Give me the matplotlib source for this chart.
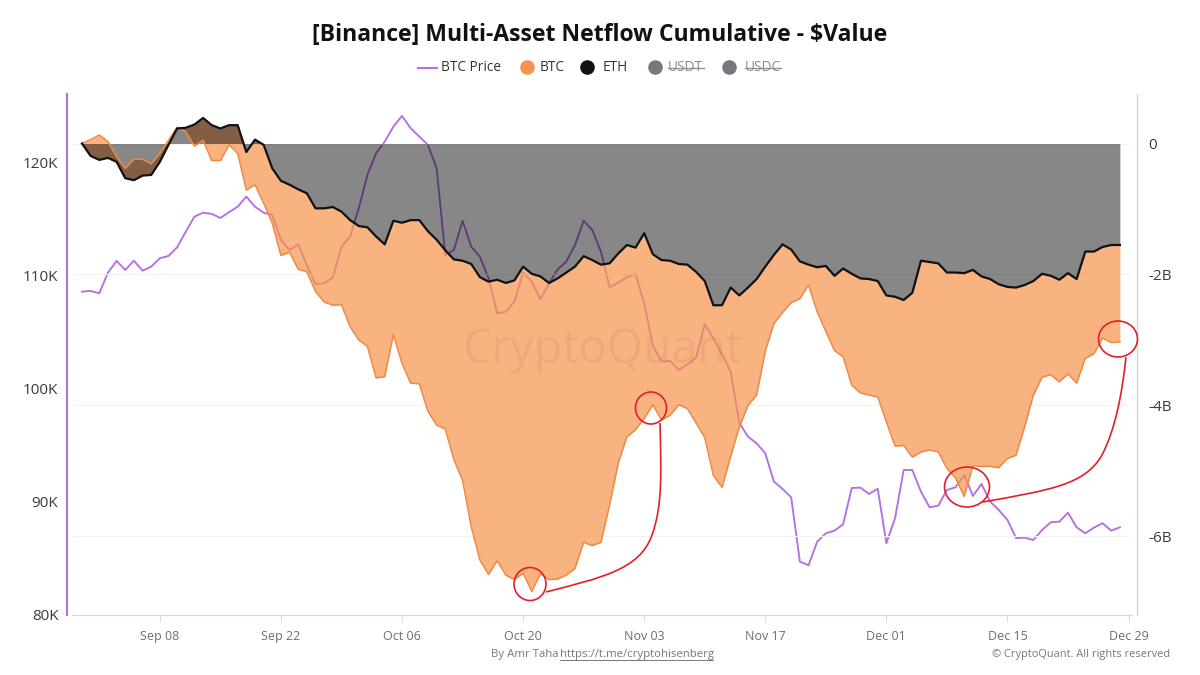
import numpy as np
import pandas as pd
import matplotlib as mpl
mpl.use('Agg')
import matplotlib.pyplot as plt
from matplotlib.lines import Line2D
from matplotlib.patches import Ellipse, PathPatch
from matplotlib.path import Path

plt.rcParams['font.family'] = ['Open Sans', 'DejaVu Sans']

###############################################################################
## Data (one point per day)
###############################################################################
start_date = '2025-08-30'

btc_price = [108.61, 108.67, 108.47, 110.29, 111.33, 110.53, 111.35, 110.47, 110.82, 111.57,
             111.77, 112.54, 113.92, 115.25, 115.60, 115.49, 115.13, 115.64, 116.13, 117.02,
             116.13, 115.60, 115.40, 113.19, 112.30, 112.81, 110.97, 109.29, 109.35, 109.85,
             112.59, 113.48, 115.99, 118.94, 120.86, 121.88, 123.21, 124.16, 123.07, 122.33,
             121.59, 119.53, 111.86, 112.30, 114.89, 112.59, 111.71, 109.80, 106.70, 106.84,
             107.73, 110.29, 109.50, 107.94, 109.35, 110.59, 111.27, 112.74, 114.89, 114.07,
             112.15, 109.00, 109.41, 109.88, 110.18, 107.58, 103.83, 102.42, 102.48, 101.68,
             102.19, 102.77, 105.75, 104.49, 103.07, 101.53, 97.00, 95.78, 95.19, 94.31,
             91.80, 91.15, 90.40, 84.72, 84.40, 86.49, 87.23, 87.46, 88.03, 91.24,
             91.27, 90.71, 91.18, 86.35, 88.56, 92.83, 92.83, 90.91, 89.53, 89.67,
             91.06, 91.30, 92.39, 90.53, 91.59, 90.03, 89.29, 88.41, 86.81, 86.84,
             86.64, 87.52, 88.20, 88.26, 89.05, 87.76, 87.23, 87.73, 88.12, 87.46,
             87.76]

btc_flow = [0.00, 0.06, 0.13, 0.03, -0.20, -0.38, -0.24, -0.24, -0.31, -0.15,
            0.05, 0.25, 0.18, -0.04, 0.05, -0.26, -0.26, -0.02, -0.15, -0.71,
            -0.63, -0.91, -1.22, -1.71, -1.66, -1.92, -1.96, -2.26, -2.42, -2.47,
            -2.46, -2.80, -3.00, -3.10, -3.58, -3.56, -2.92, -3.36, -3.66, -3.67,
            -4.09, -4.30, -4.36, -4.83, -5.14, -5.85, -6.36, -6.58, -6.37, -6.59,
            -6.66, -6.56, -6.84, -6.57, -6.66, -6.65, -6.59, -6.49, -6.09, -6.14,
            -6.09, -5.52, -4.88, -4.48, -4.37, -4.20, -3.99, -4.22, -4.15, -3.99,
            -4.05, -4.27, -4.49, -5.07, -5.25, -4.78, -4.33, -4.00, -3.84, -3.17,
            -2.75, -2.58, -2.43, -2.37, -2.16, -2.57, -2.87, -3.16, -3.26, -3.69,
            -3.81, -3.84, -3.87, -4.25, -4.62, -4.61, -4.79, -4.71, -4.68, -4.71,
            -4.96, -5.11, -5.39, -4.92, -4.93, -4.93, -4.95, -4.81, -4.76, -4.32,
            -3.84, -3.57, -3.53, -3.64, -3.52, -3.66, -3.28, -3.21, -2.97, -3.04,
            -3.03]

eth_flow = [0.00, -0.19, -0.25, -0.22, -0.28, -0.53, -0.56, -0.49, -0.48, -0.28,
            -0.02, 0.23, 0.24, 0.29, 0.39, 0.28, 0.23, 0.28, 0.28, -0.13,
            0.06, -0.02, -0.38, -0.57, -0.63, -0.70, -0.76, -0.99, -0.99, -0.97,
            -1.04, -1.17, -1.26, -1.28, -1.42, -1.54, -1.18, -1.21, -1.17, -1.17,
            -1.34, -1.47, -1.63, -1.77, -1.79, -1.84, -2.04, -2.11, -2.08, -2.13,
            -2.09, -1.88, -1.99, -2.03, -2.13, -2.06, -1.97, -1.88, -1.72, -1.78,
            -1.85, -1.83, -1.68, -1.55, -1.59, -1.37, -1.69, -1.78, -1.79, -1.84,
            -1.85, -1.96, -2.10, -2.47, -2.47, -2.20, -2.32, -2.20, -2.07, -1.88,
            -1.70, -1.54, -1.62, -1.80, -1.85, -1.89, -1.87, -2.02, -1.91, -1.99,
            -2.06, -2.07, -2.10, -2.32, -2.34, -2.39, -2.28, -1.79, -1.81, -1.83,
            -1.97, -1.97, -1.98, -1.93, -2.03, -2.07, -2.15, -2.19, -2.20, -2.16,
            -2.10, -1.99, -2.02, -2.08, -1.98, -2.07, -1.65, -1.65, -1.58, -1.55,
            -1.55]

left_ticks = [80, 90, 100, 110, 120]
left_labels = ['80K', '90K', '100K', '110K', '120K']
right_ticks = [0, -2, -4, -6]
right_labels = ['0', '-2B', '-4B', '-6B']
date_ticks = ['2025-09-08', '2025-09-22', '2025-10-06', '2025-10-20', '2025-11-03',
              '2025-11-17', '2025-12-01', '2025-12-15', '2025-12-29']

purple = '#B56EE3'
orange = '#F7934C'
grey_dot = '#77777F'

###############################################################################
## Fig setup
###############################################################################
W, H = 1200, 675
fig = plt.figure(figsize=(W/100, H/100), dpi=100)
fig.patch.set_facecolor('white')

def px(x, y):
    # reference pixels to figure fraction
    return x/W, 1 - y/H

plot_left, plot_right, plot_top, plot_bottom = 72, 1132, 94, 615
ax = fig.add_axes([plot_left/W, 1 - plot_bottom/H, (plot_right - plot_left)/W, (plot_bottom - plot_top)/H])
ax_tw = ax.twinx()

dates = pd.date_range(start_date, periods=len(btc_price))
day = pd.Timedelta(days=1)
ax.set_xlim(dates[0] - 1.156*day, dates[0] + 121.4*day)
ax.set_ylim(80, 126.1)
ax_tw.set_ylim(-7.2, 0.756)

for s in ax.spines.values():
    s.set_visible(False)
for s in ax_tw.spines.values():
    s.set_visible(False)

ax.spines['left'].set_visible(True)
ax.spines['left'].set_position(('outward', 3.8))
ax.spines['left'].set_color(purple)
ax.spines['left'].set_linewidth(1.5)
ax.spines['bottom'].set_visible(True)
ax.spines['bottom'].set_color('#DADADE')
ax.spines['bottom'].set_linewidth(0.9)
ax_tw.spines['right'].set_visible(True)
ax_tw.spines['right'].set_position(('outward', 3.6))
ax_tw.spines['right'].set_color('#D5D5D8')
ax_tw.spines['right'].set_linewidth(1.0)

ax.set_yticks(left_ticks, left_labels)
ax.tick_params(axis='y', length=0, pad=6, labelsize=11, labelcolor='#3A3A3A')
ax_tw.set_yticks(right_ticks, right_labels)
ax_tw.tick_params(axis='y', length=0, pad=8, labelsize=11, labelcolor='#3A3A3A')
ax.set_xticks(pd.to_datetime(date_ticks), [pd.Timestamp(d).strftime('%b %d') for d in date_ticks])
ax.tick_params(axis='x', length=5, width=0.7, color='#DADADE', pad=6, labelsize=9, labelcolor='#6E6E6E')

ax_tw.grid(axis='y', color='#F3F3F3', lw=0.8)
ax_tw.set_axisbelow(True)
ax.patch.set_visible(False)
ax_tw.patch.set_visible(False)

###############################################################################
## Plot data
###############################################################################
# price sits under the fills, that's why it goes reddish over the orange
ax.plot(dates, btc_price, color=purple, lw=1.35, solid_joinstyle='round', zorder=2)

ax_tw.fill_between(dates, btc_flow, eth_flow, color=orange, alpha=0.7, lw=0, zorder=2)
ax_tw.fill_between(dates, 0, eth_flow, color='black', alpha=0.47, lw=0, zorder=3)
ax_tw.plot(dates, btc_flow, color='#EF8A45', lw=1.1, zorder=4)
ax_tw.plot(dates, eth_flow, color='#111111', lw=1.6, zorder=5)

###############################################################################
## Title, legend, footer
###############################################################################
fig.text(*px(600, 35), '[Binance] Multi-Asset Netflow Cumulative - $Value', ha='center', va='center',
         fontsize=16.6, fontweight='bold', color='#111111')

fig.add_artist(Line2D([418/W, 437/W], [1 - 68/H]*2, color=purple, lw=1.5))
legend_dots = [(527, orange), (587, '#111111'), (655, grey_dot), (729, grey_dot)]
for x, c in legend_dots:
    fig.add_artist(Line2D([x/W], [1 - 67/H], marker='o', ms=10.5, color=c, mew=0))

legend_text = [(441, 'BTC Price', '#333333'), (540, 'BTC', '#333333'), (603, 'ETH', '#333333'),
               (668, 'USDT', '#8A8A8A'), (745, 'USDC', '#8A8A8A')]
for x, label, c in legend_text:
    fig.text(*px(x, 67.5), label, ha='left', va='center', fontsize=9.8, color=c)

fig.add_artist(Line2D([668/W, 704/W], [1 - 67.5/H]*2, color='#8A8A8A', lw=0.9))
fig.add_artist(Line2D([745/W, 781/W], [1 - 67.5/H]*2, color='#8A8A8A', lw=0.9))

fig.text(*px(491, 654), 'By Amr Taha', ha='left', va='center', fontsize=8.2, color='#777777')
fig.text(*px(560, 654), 'https://t.me/cryptohisenberg', ha='left', va='center', fontsize=8.2, color='#777777')
fig.add_artist(Line2D([560/W, 713/W], [1 - 659.5/H]*2, color='#777777', lw=0.7))
fig.text(*px(1170, 654), '© CryptoQuant. All rights reserved', ha='right', va='center', fontsize=7.9, color='#777777')

fig.text(*px(602, 350), 'CryptoQuant', ha='center', va='center', fontsize=33.5, color='#6E5A50', alpha=0.09)

###############################################################################
## Red hand drawn marks
###############################################################################
red = '#E0202A'
circles = [(530, 584, 32, 33), (651, 408, 31, 32), (967, 487, 45, 40), (1118, 339, 39, 36)]
for cx, cy, w, h in circles:
    fig.add_artist(Ellipse(px(cx, cy), w/W, h/H, fill=False, ec=red, lw=1.2, transform=fig.transFigure))

curves = [
    [(546, 592), (600, 578), (640, 570), (652, 535), (663, 505), (661, 470), (660, 423)],
    [(983, 502), (1050, 490), (1085, 485), (1102, 455), (1115, 430), (1122, 395), (1126, 357)],
]
codes = [Path.MOVETO] + [Path.CURVE4]*6
for pts in curves:
    fig.add_artist(PathPatch(Path([px(*p) for p in pts], codes), fill=False, ec=red, lw=1.2,
                             transform=fig.transFigure))

fig.savefig('out.png', dpi=100)
